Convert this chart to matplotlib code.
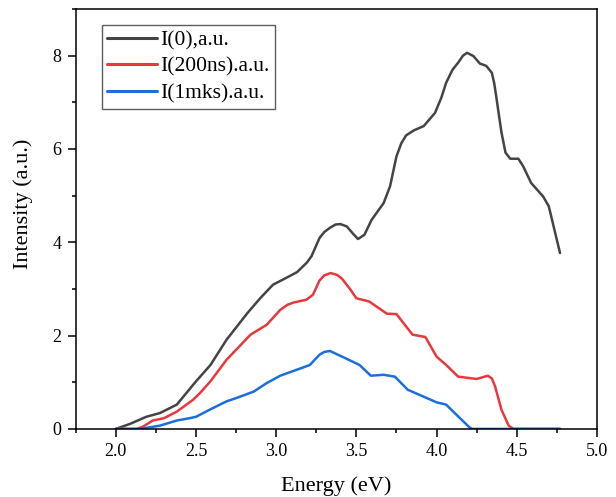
import matplotlib
matplotlib.use("Agg")
import matplotlib.pyplot as plt
from matplotlib.ticker import MultipleLocator

plt.rcParams['font.family'] = ['Liberation Serif', 'DejaVu Serif']

energy_i0 = [2.0, 2.09, 2.19, 2.275, 2.38, 2.44, 2.50, 2.59, 2.69, 2.82, 2.90, 2.98, 3.07, 3.13,
             3.19, 3.22, 3.27, 3.30, 3.335, 3.37, 3.40, 3.44, 3.48, 3.51, 3.55, 3.595, 3.67,
             3.71, 3.75, 3.78, 3.81, 3.86, 3.92, 3.99, 4.03, 4.06, 4.10, 4.135, 4.165, 4.19,
             4.23, 4.27, 4.31, 4.345, 4.36, 4.375, 4.39, 4.405, 4.43, 4.46, 4.51, 4.54, 4.59,
             4.665, 4.70, 4.73, 4.77]
i0 = [0.0, 0.11, 0.26, 0.34, 0.52, 0.77, 1.02, 1.37, 1.91, 2.48, 2.80, 3.09, 3.25, 3.36,
      3.56, 3.70, 4.09, 4.22, 4.31, 4.38, 4.39, 4.34, 4.18, 4.07, 4.16, 4.48, 4.84,
      5.2, 5.84, 6.12, 6.29, 6.40, 6.49, 6.77, 7.10, 7.42, 7.70, 7.85, 8.00, 8.06,
      7.99, 7.83, 7.78, 7.63, 7.40, 7.06, 6.70, 6.35, 5.92, 5.79, 5.79, 5.63, 5.27,
      4.98, 4.77, 4.34, 3.77]

energy_i200 = [2.0, 2.13, 2.17, 2.23, 2.30, 2.38, 2.48, 2.525, 2.59, 2.69, 2.84, 2.94, 3.025,
               3.07, 3.11, 3.19, 3.23, 3.27, 3.30, 3.34, 3.38, 3.41, 3.46, 3.50, 3.58, 3.69,
               3.75, 3.85, 3.93, 4.0, 4.06, 4.135, 4.25, 4.32, 4.345, 4.365, 4.405, 4.45,
               4.48, 4.77]
i200 = [0.0, 0.0, 0.05, 0.18, 0.23, 0.37, 0.62, 0.77, 1.02, 1.48, 2.02, 2.23, 2.55,
        2.66, 2.71, 2.77, 2.88, 3.18, 3.29, 3.34, 3.30, 3.22, 3.00, 2.80, 2.73, 2.47,
        2.46, 2.02, 1.97, 1.55, 1.37, 1.12, 1.07, 1.14, 1.08, 0.91, 0.41, 0.07,
        0.0, 0.0]

energy_i1 = [2.0, 2.15, 2.275, 2.38, 2.46, 2.50, 2.59, 2.69, 2.75, 2.86, 2.94, 3.025, 3.13,
             3.21, 3.27, 3.30, 3.335, 3.41, 3.52, 3.59, 3.67, 3.74, 3.82, 3.92, 4.0, 4.06,
             4.125, 4.2, 4.22, 4.77]
i1 = [0.0, 0.0, 0.07, 0.18, 0.23, 0.26, 0.42, 0.59, 0.66, 0.80, 0.98, 1.14, 1.27,
      1.37, 1.59, 1.65, 1.67, 1.55, 1.37, 1.14, 1.16, 1.12, 0.84, 0.69, 0.57, 0.52,
      0.30, 0.05, 0.0, 0.0]

labels = ["I(0),a.u.", "I(200ns).a.u.", "I(1mks).a.u."]
colors = ["#444444", "#e8383d", "#1b6edb"]

fig = plt.figure(figsize=(6.16, 4.97), dpi=100)
ax = fig.add_axes([0.123, 0.137, 0.846, 0.845])

for xs, ys, lab, c in zip([energy_i0, energy_i200, energy_i1], [i0, i200, i1], labels, colors):
    ax.plot(xs, ys, color=c, lw=1.8, label=lab, solid_joinstyle='round', solid_capstyle='round')

ax.set_xlim(1.75, 5.0)
ax.set_ylim(0, 9)
ax.xaxis.set_major_locator(MultipleLocator(0.5))
ax.xaxis.set_minor_locator(MultipleLocator(0.25))
ax.yaxis.set_major_locator(MultipleLocator(2))
ax.yaxis.set_minor_locator(MultipleLocator(1))
ax.xaxis.set_major_formatter(matplotlib.ticker.FormatStrFormatter('%.1f'))
ax.tick_params(which='major', direction='out', length=5.5, width=1.1, labelsize=13, pad=5)
ax.tick_params(which='minor', direction='out', length=3, width=1.1)
for s in ax.spines.values():
    s.set_linewidth(1.1)

ax.set_xlabel("Energy (eV)", fontsize=16, labelpad=11)
ax.set_ylabel("Intensity (a.u.)", fontsize=16)
ax.yaxis.set_label_coords(-0.083, 0.536)

leg = ax.legend(loc='upper left', bbox_to_anchor=(0.05, 0.962), borderaxespad=0,
                fontsize=15.5, frameon=True, fancybox=False, edgecolor='#333333',
                handlelength=2.3, handletextpad=0.15, labelspacing=0.3, borderpad=0.25)
leg.get_frame().set_linewidth(1.0)
for l in leg.get_lines():
    l.set_linewidth(2.2)

fig.savefig("out.png", dpi=100)
